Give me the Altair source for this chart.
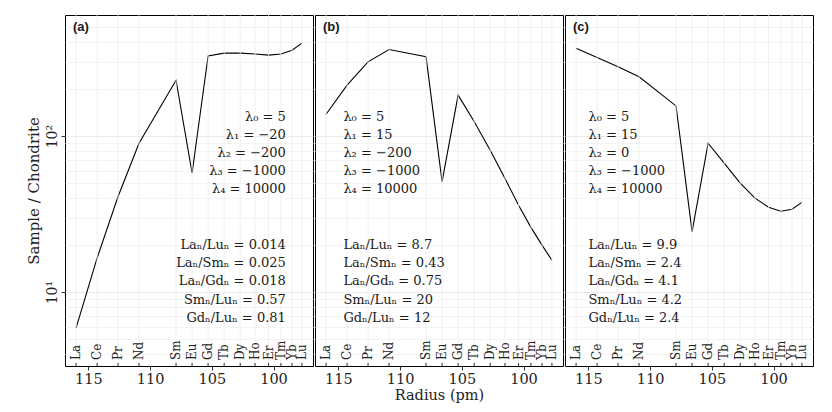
import altair as alt
import pandas as pd

elements = ["La", "Ce", "Pr", "Nd", "Sm", "Eu", "Gd", "Tb", "Dy", "Ho", "Er", "Tm", "Yb", "Lu"]
radius = [116.0, 114.3, 112.6, 110.9, 107.9, 106.6, 105.3, 104.0, 102.7, 101.5, 100.4, 99.4, 98.5, 97.7]

vals_a = [5.9, 16.5, 41, 90, 228, 58, 326, 340, 340, 336, 330, 336, 355, 394]
vals_b = [138, 212, 299, 359, 322, 51, 183, 124, 81, 53.5, 36, 26, 20, 16]
vals_c = [365, 319, 278, 240, 156, 24.4, 90, 67, 50, 40, 35, 33, 34, 37.6]

lam_a = ["λ₀ = 5", "λ₁ = −20", "λ₂ = −200", "λ₃ = −1000", "λ₄ = 10000"]
lam_b = ["λ₀ = 5", "λ₁ = 15", "λ₂ = −200", "λ₃ = −1000", "λ₄ = 10000"]
lam_c = ["λ₀ = 5", "λ₁ = 15", "λ₂ = 0", "λ₃ = −1000", "λ₄ = 10000"]

rat_a = ["Laₙ/Luₙ = 0.014", "Laₙ/Smₙ = 0.025", "Laₙ/Gdₙ = 0.018", "Smₙ/Luₙ = 0.57", "Gdₙ/Luₙ = 0.81"]
rat_b = ["Laₙ/Luₙ = 8.7", "Laₙ/Smₙ = 0.43", "Laₙ/Gdₙ = 0.75", "Smₙ/Luₙ = 20", "Gdₙ/Luₙ = 12"]
rat_c = ["Laₙ/Luₙ = 9.9", "Laₙ/Smₙ = 2.4", "Laₙ/Gdₙ = 4.1", "Smₙ/Luₙ = 4.2", "Gdₙ/Luₙ = 2.4"]

# annotation anchor positions (data coordinates)
lam_y = [133, 101.8, 77.9, 59.6, 45.6]
rat_y = [20.0, 15.3, 11.7, 8.95, 6.85]

x_ticks = [115, 110, 105, 100]
y_grid = [4, 5, 6, 7, 8, 9, 10, 20, 30, 40, 50, 60, 70, 80, 90, 100, 200, 300, 400, 500]

W, H = 248, 351
SERIF = "DejaVu Serif"
X_DOMAIN = [96.8, 116.9]
Y_DOMAIN = [3.36, 597]

major_test = "datum.value == 10 || datum.value == 100"


def panel(vals, tag, lams, rats, text_x, align, show_y, x_title):
    xs = alt.Scale(domain=X_DOMAIN, reverse=True, nice=False, zero=False)
    ys = alt.Scale(type="log", domain=Y_DOMAIN, nice=False)

    grid_color = {"condition": {"test": major_test, "value": "#e4e4e4"}, "value": "#f0f0f0"}
    if show_y:
        yaxis = alt.Axis(
            values=y_grid, grid=True, domain=False,
            gridColor=grid_color, gridWidth=0.8,
            tickOpacity={"condition": {"test": major_test, "value": 1}, "value": 0},
            tickSize=4, tickColor="#333333",
            labelExpr="datum.value == 10 ? '10¹' : datum.value == 100 ? '10²' : ''",
            labelAngle=270, labelAlign="center", labelBaseline="bottom",
            labelFont=SERIF, labelFontSize=14, labelColor="#222222", labelPadding=2,
            title="Sample / Chondrite", titleFont=SERIF, titleFontSize=15,
            titleFontWeight="normal", titleColor="#222222", titlePadding=4,
        )
    else:
        yaxis = alt.Axis(
            values=y_grid, grid=True, domain=False, ticks=False, labels=False,
            gridColor=grid_color, gridWidth=0.8, title=None,
        )

    xaxis = alt.Axis(
        values=x_ticks, grid=False, domain=False, tickSize=4, tickColor="#333333",
        labelFont=SERIF, labelFontSize=14.5, labelColor="#222222", labelPadding=2,
        title=x_title, titleFont=SERIF, titleFontSize=14.5, titleFontWeight="normal",
        titleColor="#222222", titlePadding=3,
    )

    df = pd.DataFrame({"radius": radius, "value": vals, "element": elements})
    X = alt.X("radius:Q", scale=xs, axis=xaxis)
    Y = alt.Y("value:Q", scale=ys, axis=yaxis)

    line = alt.Chart(df).mark_line(color="black", strokeWidth=1.1).encode(
        x=X, y=Y, order="radius:Q",
    )

    vgrid = alt.Chart(df).mark_rule(color="#ececec", strokeWidth=0.8).encode(
        x=X, y=alt.value(0), y2=alt.value(H),
    )

    ticks_in = alt.Chart(df).mark_rule(color="#333333", strokeWidth=1).encode(
        x=X, y=alt.value(H), y2=alt.value(H - 3),
    )

    elab = alt.Chart(df).mark_text(
        angle=270, align="left", baseline="middle", font=SERIF, fontSize=12, color="#222222"
    ).encode(
        x=X, y=alt.value(H - 6), text="element:N",
    )

    ann = pd.DataFrame({
        "radius": [text_x] * 10,
        "value": lam_y + rat_y,
        "label": lams + rats,
    })
    atext = alt.Chart(ann).mark_text(
        align=align, baseline="middle", font=SERIF, fontSize=13, color="#1a1a1a"
    ).encode(
        x=X, y=Y, text="label:N",
    )

    tagt = alt.Chart(pd.DataFrame({"tag": [tag]})).mark_text(
        align="left", baseline="middle", font="Liberation Sans", fontWeight="bold",
        fontSize=13, color="#1a1a1a"
    ).encode(x=alt.value(8), y=alt.value(12), text="tag:N")

    return alt.layer(line, vgrid, ticks_in, elab, atext, tagt).properties(width=W, height=H)


pa = panel(vals_a, "(a)", lam_a, rat_a, 99.0, "right", True, None)
pb = panel(vals_b, "(b)", lam_b, rat_b, 114.6, "left", False, "Radius (pm)")
pc = panel(vals_c, "(c)", lam_c, rat_c, 115.0, "left", False, None)

chart = alt.hconcat(pa, pb, pc, spacing=0).properties(
    padding={"left": 17, "top": 6, "right": 5, "bottom": 2}
).configure_view(stroke="black", strokeWidth=1).configure_concat(spacing=0)

chart.save("out.html", embed_options={"renderer": "svg", "actions": False})
